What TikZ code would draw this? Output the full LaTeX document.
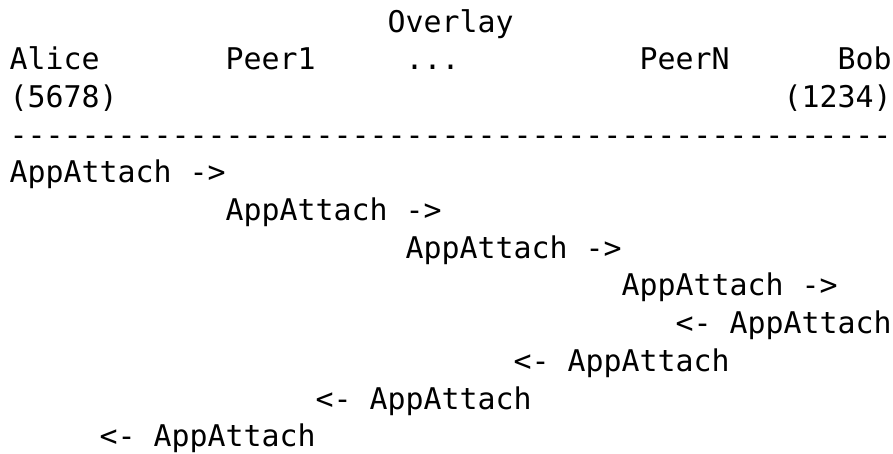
\documentclass[tikz,border=0pt]{standalone}
\usepackage{fontspec}
\newfontfamily\asciifont[Ligatures=TeXOff]{DejaVu Sans Mono}
\usepackage{tikz}
\tikzset{
	txt/.style={anchor=base west,inner sep=0pt,outer sep=0pt,
		font=\asciifont\fontsize{29.9}{36}\selectfont}
}

\begin{document}
\begin{tikzpicture}[x=18pt,y=37.7pt]
	\useasboundingbox (-0.528,0.849) rectangle (49.083,-11.167);
	%
	%  HEADER
	%
	\node[txt] (OV) at (21,0) {Overlay};
	\node[txt] (A) at (0,-1) {Alice};
	\node[txt] (P1) at (12,-1) {Peer1};
	\node[txt] (DOTS) at (22,-1) {...};
	\node[txt] (PN) at (35,-1) {PeerN};
	\node[txt] (B) at (46,-1) {Bob};
	\node[txt] (AID) at (0,-2) {(5678)};
	\node[txt] (BID) at (43,-2) {(1234)};
	\node[txt] (RULE) at (0,-3) {-------------------------------------------------};
	%
	%  MESSAGES
	%
	\node[txt] (M1) at (0,-4) {AppAttach ->};
	\node[txt] (M2) at (12,-5) {AppAttach ->};
	\node[txt] (M3) at (22,-6) {AppAttach ->};
	\node[txt] (M4) at (34,-7) {AppAttach ->};
	\node[txt] (R1) at (37,-8) {<- AppAttach};
	\node[txt] (R2) at (28,-9) {<- AppAttach};
	\node[txt] (R3) at (17,-10) {<- AppAttach};
	\node[txt] (R4) at (5,-11) {<- AppAttach};
\end{tikzpicture}
\end{document}
